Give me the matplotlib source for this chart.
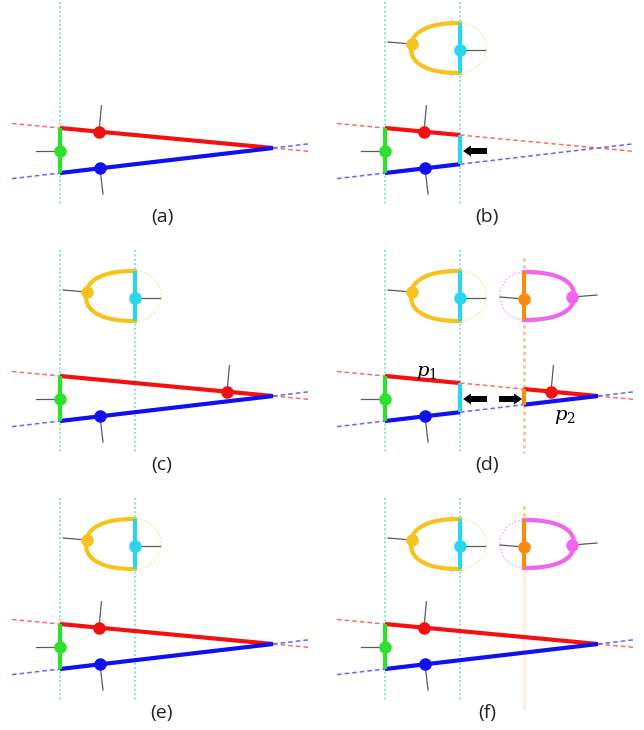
import numpy as np
import matplotlib.pyplot as plt

# six sub-figures, pixel offsets of each one
panel_labels = ["(a)", "(b)", "(c)", "(d)", "(e)", "(f)"]
panel_dx = [0, 325, 0, 325, 0, 325]
panel_dy = [0, 0, 248, 248, 496, 496]

# wedge geometry (panel pixels, y down)
red_start = (60, 128)
blue_start = (60, 173)
apex = (273, 148)
green_x = 60
cyan_x = 135
orange_x = 199
ext_left = 12
ext_right = 308

# per panel contents
solid_spans = [[(60, 273)], [(60, 135)], [(60, 273)],
               [(60, 135), (199, 273)], [(60, 273)], [(60, 273)]]
red_dot_x = [99, 99, 227, 226, 99, 99]
blue_dot_x = [100, 100, 100, 100, 100, 100]
guide_lines = [["g"], ["g", "c"], ["g", "c"], ["g", "c", "o"], ["g", "c"], ["g", "c", "o"]]
faded_orange = [False, False, False, False, False, True]
show_yellow = [False, True, True, True, True, True]
show_magenta = [False, False, False, True, False, True]
arrows_left = [False, True, False, True, False, False]
arrows_right = [False, False, False, True, False, False]
p_labels = [[], [], [], [("$p_1$", 102, 124), ("$p_2$", 240, 168)], [], []]

# loop geometry
loop_cy = 48
loop_b = 25
yellow_a = (49, 26)    # solid half, dotted half
magenta_a = (50, 24)

RED = "#f41010"
BLUE = "#1010f0"
GREEN = "#2ee02e"
YELLOW = "#f6c31c"
CYAN = "#2ad6ee"
MAGENTA = "#f064ee"
ORANGE = "#f78c10"
TICK = "#5a5a5a"
guide_col = {"g": ("#86e6c6", 1.3), "c": ("#86dfe6", 1.3), "o": ("#f5c58c", 2.0)}


def y_on(p0, p1, x):
    return p0[1] + (p1[1] - p0[1]) * (x - p0[0]) / (p1[0] - p0[0])


def normal_tick(ax, p0, p1, x, dx, dy, up, color):
    y = y_on(p0, p1, x)
    d = np.array([p1[0] - p0[0], p1[1] - p0[1]], float)
    d /= np.hypot(*d)
    n = np.array([-d[1], d[0]])
    if (n[1] < 0) != up:
        n = -n
    ax.plot([x + dx, x + dx + 26 * n[0]], [y + dy, y + dy + 26 * n[1]],
            color=TICK, lw=0.9, zorder=2)
    ax.plot(x + dx, y + dy, "o", color=color, ms=8, zorder=4)


def half_loop(cx, cy, a, b, side, p=0.85):
    t = np.linspace(-np.pi / 2, np.pi / 2, 80)
    c, s = np.cos(t), np.sin(t)
    x = cx + side * a * np.abs(c) ** p
    y = cy - b * np.sign(s) * np.abs(s) ** p
    return x, y


def block_arrow(ax, x0, x1, y):
    ax.arrow(x0, y, x1 - x0, 0, width=6, head_width=11, head_length=8,
             length_includes_head=True, color="black", lw=0, zorder=5)


fig = plt.figure(figsize=(6.44, 7.3), dpi=100)
ax = fig.add_axes([0, 0, 1, 1])
ax.set_xlim(0, 644)
ax.set_ylim(730, 0)
ax.axis("off")

for i, lab in enumerate(panel_labels):
    dx, dy = panel_dx[i], panel_dy[i]

    # vertical guides
    for g in guide_lines[i]:
        gx = {"g": green_x, "c": cyan_x, "o": orange_x}[g]
        col, lw = guide_col[g]
        top = 2 if g != "o" else 10
        if g == "o" and faded_orange[i]:
            ax.plot([gx + dx, gx + dx], [top + dy, loop_cy + loop_b + dy], color=col, lw=lw,
                    ls=(0, (1.2, 1.2)), zorder=1)
            ax.plot([gx + dx, gx + dx], [loop_cy + loop_b + dy, 212 + dy], color="#fdf1e6",
                    lw=2.5, zorder=1)
            continue
        ax.plot([gx + dx, gx + dx], [top + dy, 205 + dy], color=col, lw=lw,
                ls=(0, (1.2, 1.2)), zorder=1)

    # dashed extensions of both edges
    spans = solid_spans[i]
    cuts = [ext_left] + [v for s in spans for v in s] + [ext_right]
    for k in range(0, len(cuts), 2):
        xa, xb = cuts[k], cuts[k + 1]
        if xb <= xa:
            continue
        xs = np.array([xa, xb])
        ax.plot(xs + dx, y_on(red_start, apex, xs) + dy, color="#ff6a6a", lw=1.1,
                ls=(0, (3, 2)), zorder=1)
        ax.plot(xs + dx, y_on(blue_start, apex, xs) + dy, color="#6464ff", lw=1.1,
                ls=(0, (3, 2)), zorder=1)

    # solid edges
    for xa, xb in spans:
        xs = np.array([xa, xb])
        ax.plot(xs + dx, y_on(red_start, apex, xs) + dy, color=RED, lw=3,
                solid_capstyle="butt", zorder=3)
        ax.plot(xs + dx, y_on(blue_start, apex, xs) + dy, color=BLUE, lw=3,
                solid_capstyle="butt", zorder=3)
        for xe in (xa, xb):
            if xe == green_x or xe == apex[0]:
                continue
            col = CYAN if xe == cyan_x else ORANGE
            ax.plot([xe + dx, xe + dx],
                    [y_on(red_start, apex, xe) + dy, y_on(blue_start, apex, xe) + dy],
                    color=col, lw=3, solid_capstyle="butt", zorder=3)

    # green edge with its normal
    ax.plot([green_x + dx] * 2, [red_start[1] + dy, blue_start[1] + dy], color=GREEN,
            lw=3, solid_capstyle="butt", zorder=3)
    gy = (red_start[1] + blue_start[1]) / 2
    ax.plot([green_x + dx - 24, green_x + dx], [gy + dy, gy + dy], color=TICK, lw=0.9, zorder=2)
    ax.plot(green_x + dx, gy + dy, "o", color=GREEN, ms=8, zorder=4)

    normal_tick(ax, red_start, apex, red_dot_x[i], dx, dy, True, RED)
    normal_tick(ax, blue_start, apex, blue_dot_x[i], dx, dy, False, BLUE)

    # yellow loop
    if show_yellow[i]:
        cx, cy = cyan_x + dx, loop_cy + dy
        x, y = half_loop(cx, cy, yellow_a[0], loop_b, -1)
        ax.plot(x, y, color=YELLOW, lw=3, zorder=3)
        x, y = half_loop(cx, cy, yellow_a[1], loop_b, 1, p=1.0)
        ax.plot(x, y, color="#f7e48c", lw=1, ls=(0, (1, 1.5)), zorder=2)
        ax.plot([cx, cx], [cy - loop_b, cy + loop_b], color=CYAN, lw=3,
                solid_capstyle="butt", zorder=3)
        ax.plot([cx - yellow_a[0], cx - yellow_a[0] - 23], [cy - 4, cy - 6], color=TICK,
                lw=0.9, zorder=2)
        ax.plot(cx - yellow_a[0] + 1, cy - 4, "o", color=YELLOW, ms=8, zorder=4)
        ax.plot([cx, cx + 25], [cy + 2, cy + 2], color=TICK, lw=0.9, zorder=2)
        ax.plot(cx, cy + 2, "o", color=CYAN, ms=8, zorder=4)

    # magenta loop
    if show_magenta[i]:
        cx, cy = orange_x + dx, loop_cy + dy
        x, y = half_loop(cx, cy, magenta_a[0], loop_b - 1, 1)
        ax.plot(x, y, color=MAGENTA, lw=3, zorder=3)
        x, y = half_loop(cx, cy, magenta_a[1], loop_b - 1, -1, p=1.0)
        ax.plot(x, y, color="#f4a2ee", lw=1, ls=(0, (1, 1.5)), zorder=2)
        ax.plot([cx, cx], [cy - loop_b + 1, cy + loop_b - 1], color=ORANGE, lw=3,
                solid_capstyle="butt", zorder=3)
        ax.plot([cx, cx - 24], [cy + 3, cy + 1], color=TICK, lw=0.9, zorder=2)
        ax.plot(cx, cy + 3, "o", color=ORANGE, ms=8, zorder=4)
        ax.plot([cx + magenta_a[0] - 1, cx + magenta_a[0] + 23], [cy + 1, cy - 1],
                color=TICK, lw=0.9, zorder=2)
        ax.plot(cx + magenta_a[0] - 2, cy + 1, "o", color=MAGENTA, ms=8, zorder=4)

    # arrows
    if arrows_left[i]:
        block_arrow(ax, 162 + dx, 138 + dx, 151 + dy)
    if arrows_right[i]:
        block_arrow(ax, 174 + dx, 197 + dx, 151 + dy)

    for txt, tx, ty in p_labels[i]:
        ax.text(tx + dx, ty + dy, txt, fontsize=14, ha="center", va="center",
                math_fontfamily="dejavuserif", zorder=5)

    ax.text(162 + dx, 217 + dy, lab, fontsize=14, ha="center", va="center",
            family="Open Sans", color="#222222")

fig.savefig("out.png", dpi=100)
